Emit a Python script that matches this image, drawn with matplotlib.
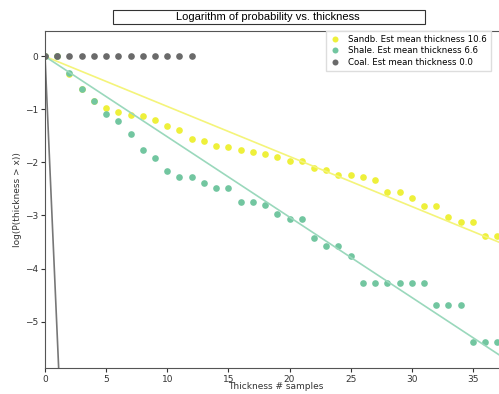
import numpy as np
import matplotlib.pyplot as plt
from matplotlib.patches import Rectangle

# thickness in samples
x_vals = list(range(0, 38))

# log(P(thickness > x))
sand_logp = [0.0, 0.0, -0.33, -0.62, -0.85, -0.98, -1.05, -1.10, -1.13, -1.19,
             -1.31, -1.38, -1.56, -1.60, -1.68, -1.71, -1.76, -1.80, -1.84, -1.89,
             -1.98, -1.98, -2.11, -2.14, -2.23, -2.23, -2.28, -2.33, -2.55, -2.55,
             -2.67, -2.83, -2.83, -3.02, -3.13, -3.13, -3.38, -3.38]
shale_logp = [0.0, 0.0, -0.32, -0.62, -0.85, -1.08, -1.21, -1.47, -1.77, -1.92,
              -2.16, -2.28, -2.28, -2.38, -2.48, -2.48, -2.74, -2.74, -2.81, -2.98,
              -3.07, -3.07, -3.43, -3.58, -3.58, -3.76, -4.28, -4.28, -4.28, -4.28,
              -4.28, -4.28, -4.69, -4.69, -4.69, -5.38, -5.38, -5.38]
coal_x = list(range(0, 13))
coal_logp = [0.0] * 13

# estimated mean thickness (slope of the fitted lines is -1/mean)
sand_mean = 10.6
shale_mean = 6.6
coal_line_mean = 0.19

labels = ["Sandb. Est mean thickness 10.6",
          "Shale. Est mean thickness 6.6",
          "Coal. Est mean thickness 0.0"]

sand_col = '#eef03a'
shale_col = '#72c6a0'
coal_col = '#6a6a6a'

fig = plt.figure(figsize=(4.99, 3.94), dpi=100)
ax = fig.add_axes([0.0902, 0.0668, 0.98, 0.8546])

xl = np.array([0, 40])
ax.plot(x_vals, sand_logp, 'o', color=sand_col, ms=4.8, mec='none', label=labels[0])
ax.plot(xl, -xl / sand_mean, '-', color='#f4f47a', lw=1.2)
ax.plot(x_vals, shale_logp, 'o', color=shale_col, ms=4.8, mec='none', label=labels[1])
ax.plot(xl, -xl / shale_mean, '-', color='#9ad8bc', lw=1.2)
ax.plot(coal_x, coal_logp, 'o', color=coal_col, ms=4.8, mec='none', label=labels[2])
ax.plot(xl, -xl / coal_line_mean, '-', color='#777777', lw=1.2)

ax.set_xlim(0, 40)
ax.set_ylim(-5.87, 0.48)
ax.set_xticks([0, 5, 10, 15, 20, 25, 30, 35])
ax.set_yticks([0, -1, -2, -3, -4, -5])
ax.tick_params(labelsize=6.5, length=3, pad=2, colors='#333333')
for s in ax.spines.values():
    s.set_color('#555555')
    s.set_linewidth(0.8)

ax.set_xlabel("Thickness # samples", fontsize=6.5, color='#333333')
ax.xaxis.set_label_coords((228 - 45) / 489.0, -0.043)
ax.xaxis.label.set_horizontalalignment('left')
ax.set_ylabel("log(P(thickness > x))", fontsize=6.5, color='#333333')
ax.yaxis.set_label_coords(-0.048, 0.5)

fig.legend(loc='upper left', bbox_to_anchor=(326 / 499, 1 - 31 / 394),
           fontsize=6.2, labelspacing=0.3, handlelength=1.2, handletextpad=0.9,
           borderpad=0.45, borderaxespad=0, markerscale=0.9, framealpha=1,
           edgecolor='#dddddd', fancybox=False)

fig.text(268 / 499, 1 - 17 / 394, "Logarithm of probability vs. thickness",
         family='Liberation Sans', fontsize=8, ha='center', va='center')
fig.patches.append(Rectangle((113 / 499, 1 - 24 / 394), 312 / 499, 14 / 394,
                             transform=fig.transFigure, fill=False,
                             edgecolor='#333333', lw=0.8))

fig.savefig('out.png', dpi=100)
